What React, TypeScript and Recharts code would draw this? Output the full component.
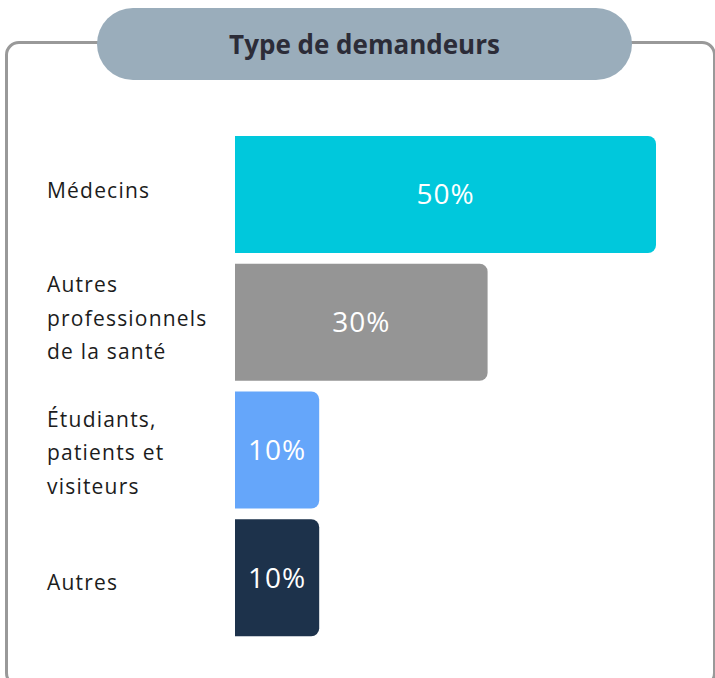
import { BarChart, Bar, XAxis, YAxis, Cell, LabelList } from "recharts";

const categories = [
  "Médecins",
  "Autres\nprofessionnels\nde la santé",
  "Étudiants,\npatients et\nvisiteurs",
  "Autres",
];
const shares = [50, 30, 10, 10];
const barColors = ["#00c8dc", "#959595", "#65a6fa", "#1d324b"];

const data = categories.map((name, i) => ({ name, value: shares[i] }));

const FONT = "'Open Sans', sans-serif";
// labels in the original sit a little lower on the bottom rows
const labelNudge = [0, 0, 7, 9];

function CategoryTick(props: any) {
  const { y, payload, index } = props;
  const lines = String(payload.value).split("\n");
  const lineH = 33.5;
  const start = -((lines.length - 1) * lineH) / 2 - 5 + (labelNudge[index] || 0);
  return (
    <text
      x={47}
      y={y}
      fill="#1c1c1c"
      fontSize={21}
      letterSpacing={1.2}
      fontFamily={FONT}
      textAnchor="start"
      dominantBaseline="central"
    >
      {lines.map((l, i) => (
        <tspan key={i} x={47} y={y + start + i * lineH}>
          {l}
        </tspan>
      ))}
    </text>
  );
}

export default function App() {
  return (
    <div
      style={{
        position: "absolute",
        left: 0,
        top: 0,
        width: 715,
        height: 678,
        overflow: "hidden",
        background: "#fff",
      }}
    >
      <div
        style={{
          position: "absolute",
          left: 5,
          top: 41,
          width: 705,
          height: 640,
          border: "3px solid #999",
          borderRadius: 14,
        }}
      />
      <div
        style={{
          position: "absolute",
          left: 97,
          top: 8,
          width: 535,
          height: 72,
          borderRadius: 36,
          background: "#9aadbb",
          display: "flex",
          alignItems: "center",
          justifyContent: "center",
          fontFamily: FONT,
          fontWeight: 700,
          fontSize: 26,
          color: "#2c2c38",
        }}
      >
        Type de demandeurs
      </div>
      <div style={{ position: "absolute", left: 0, top: 0 }}>
        <BarChart
          width={715}
          height={678}
          data={data}
          layout="vertical"
          margin={{ top: 131, right: 59, bottom: 36, left: 0 }}
        >
          <XAxis type="number" domain={[0, 50]} hide />
          <YAxis
            type="category"
            dataKey="name"
            width={235}
            axisLine={false}
            tickLine={false}
            tick={<CategoryTick />}
            interval={0}
          />
          <Bar dataKey="value" barSize={117} radius={[0, 8, 8, 0]} isAnimationActive={false}>
            {data.map((d, i) => (
              <Cell key={d.name} fill={barColors[i]} />
            ))}
            <LabelList
              dataKey="value"
              position="center"
              formatter={(v: any) => `${v}%`}
              fill="#ffffff"
              fontSize={28}
              letterSpacing={1}
              fontFamily={FONT}
            />
          </Bar>
        </BarChart>
      </div>
    </div>
  );
}
